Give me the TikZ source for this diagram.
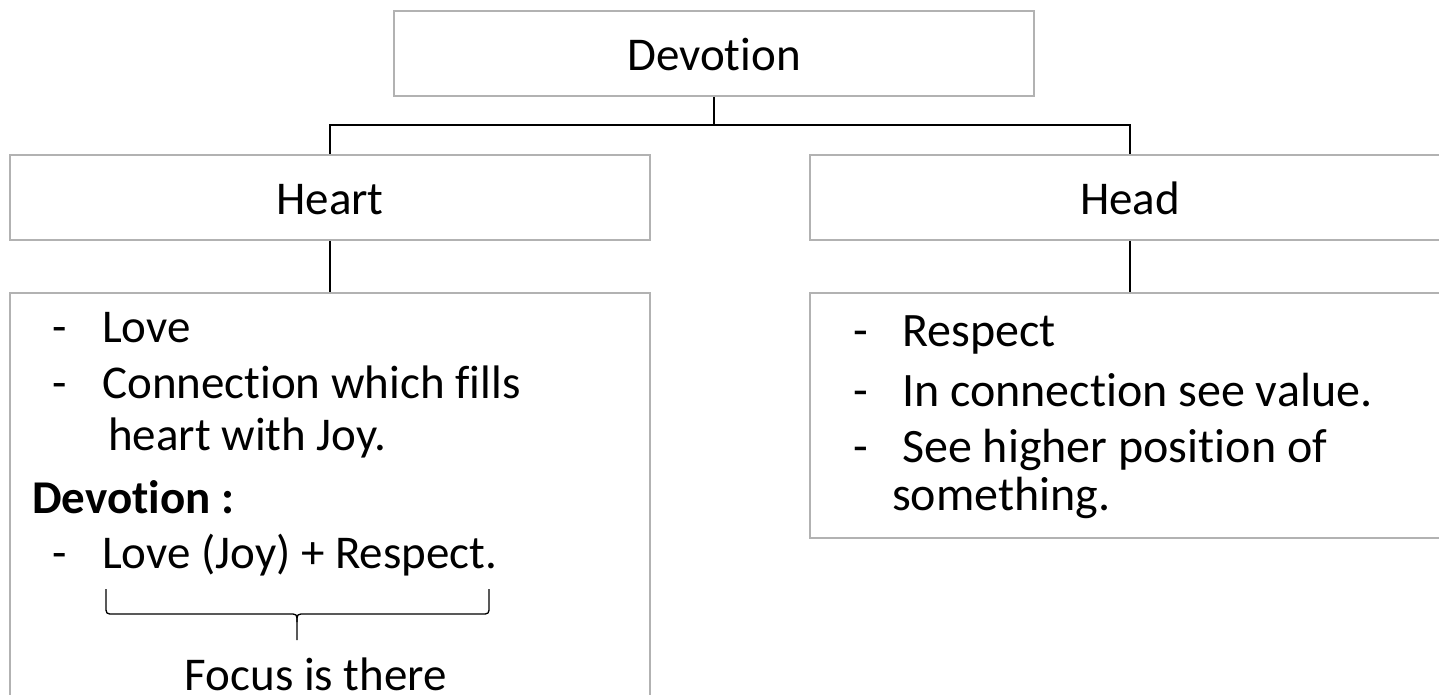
\documentclass[tikz,border=0pt]{standalone}
\usepackage{fontspec}
\setmainfont[Ligatures=NoCommon]{Carlito}
\begin{document}
\begin{tikzpicture}[x=1pt,y=-1pt,
  box/.style={draw={rgb,255:red,178;green,178;blue,178}, line width=1.6pt,
    minimum width=640pt, inner sep=0pt},
  link/.style={draw=black, line width=1.5pt},
  title/.style={anchor=base, inner sep=0pt, font=\fontsize{47}{56}\selectfont},
  txt/.style={anchor=base west, inner sep=0pt, font=\fontsize{47}{56}\selectfont},
  rtxt/.style={anchor=base west, inner sep=0pt, font=\fontsize{48}{58}\selectfont}]
\clip (0,0) rectangle (1439,695);
\fill[white] (0,0) rectangle (1439,695);

% top level and the two branches
\node[box, minimum height=85pt] (dev) at (714,53.5) {};
\node[title] (devt) at (714,71) {Devotion};
\node[box, minimum height=85pt] (heart) at (330,197.5) {};
\node[title] (heartt) at (330,214) {Heart};
\node[box, minimum height=85pt] (head) at (1130,197.5) {};
\node[title] (headt) at (1130,214) {Head};

% detail boxes
\node[box, minimum height=440pt] (heartbody) at (330,513) {};
\node[box, minimum height=245pt] (headbody) at (1130,415.5) {};

% connectors
\coordinate (hub) at (714,125);
\draw[link] (dev.south) -- (hub);
\draw[link] (hub) -| (heart.north);
\draw[link] (hub) -| (head.north);
\draw[link] (heart.south) -- (heartbody.north);
\draw[link] (head.south) -- (headbody.north);

% heart details
\node[txt] (hd1) at (52,342) {-};
\node[txt] (h1) at (102,342) {Love};
\node[txt] (hd2) at (52,398) {-};
\node[txt] (h2) at (102,398) {Connection which fills};
\node[txt] (h3) at (108,450) {heart with Joy.};
\node[txt, font=\fontsize{47}{56}\selectfont\bfseries] (h4) at (32,513) {Devotion :};
\node[txt] (hd5) at (52,568) {-};
\node[txt] (h5) at (102,568) {Love (Joy) + Respect.};

% brace under the formula
\coordinate (bl) at (106,589);
\coordinate (br) at (489,589);
\coordinate (btip) at (297,640);
\draw[line width=1.3pt, line join=round]
  (bl) -- (106,606) .. controls (106,614) .. (114,614) -- (289,614)
  .. controls (297,614) .. (297,622) -- (btip);
\draw[line width=1.3pt, line join=round]
  (br) -- (489,606) .. controls (489,614) .. (481,614) -- (305,614)
  .. controls (297,614) .. (297,622);
\node[title] (focus) at (316,690) {Focus is there};

% head details
\node[rtxt] (rd1) at (853,346) {-};
\node[rtxt] (r1) at (902,346) {Respect};
\node[rtxt] (rd2) at (853,406) {-};
\node[rtxt] (r2) at (902,406) {In connection see value.};
\node[rtxt] (rd3) at (853,462) {-};
\node[rtxt] (r3) at (902,462) {See higher position of};
\node[rtxt] (r4) at (892,510) {something.};
\end{tikzpicture}
\end{document}
